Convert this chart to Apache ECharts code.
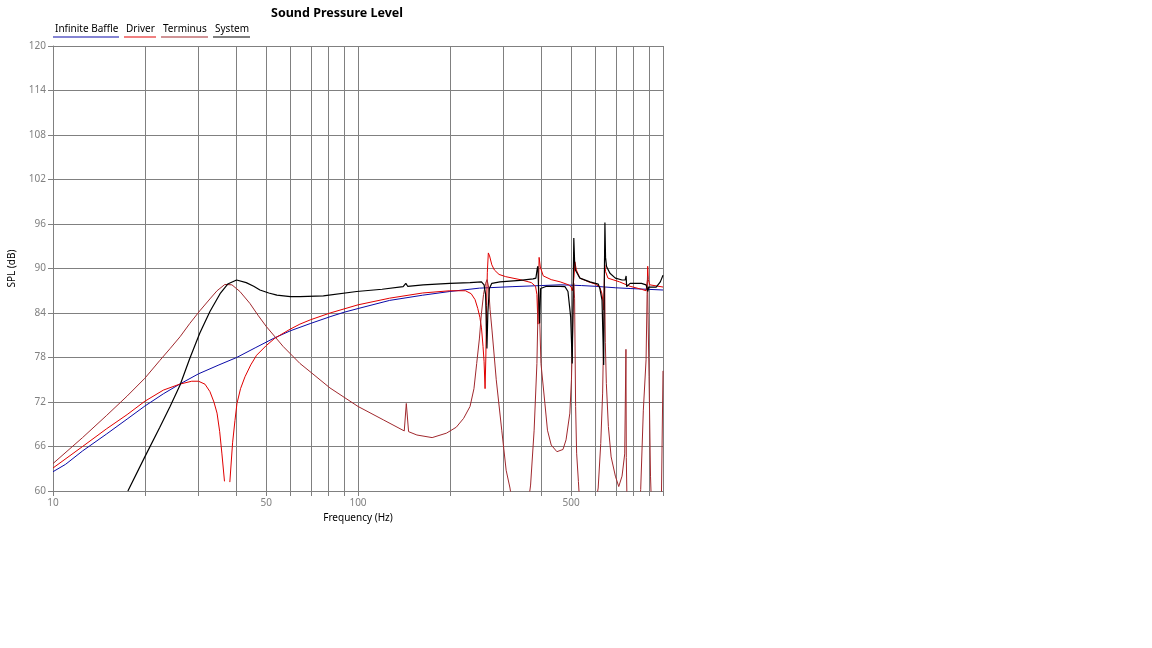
<!DOCTYPE html>
<html>
<head>
<meta charset="utf-8">
<script src="https://cdn.jsdelivr.net/npm/echarts@6/dist/echarts.min.js"></script>
<style>
html,body{margin:0;padding:0;background:#fff;}
#chart{width:1152px;height:648px;}
</style>
</head>
<body>
<div id="chart"></div>
<script>
// ---- data (frequency in Hz, SPL in dB) ----
var seriesNames = ['Infinite Baffle', 'Driver', 'Terminus', 'System'];
var gridFreqs = [10,20,30,40,50,60,70,80,90,100,200,300,400,500,600,700,800,900,1000];
var labelFreqs = [10,50,100,500];
var yTicks = [60,66,72,78,84,90,96,102,108,114,120];

var baffleData = [[10,62.6],[11,63.6],[12.5,65.4],[15,67.7],[17.5,69.7],[20,71.45],[23,73.1],[26,74.4],[30,75.8],[35,77.0],[40,78.0],[46,79.3],[53,80.6],[60,81.6],[70,82.6],[81,83.5],[90,84.1],[100,84.6],[127,85.7],[163,86.4],[200,86.9],[250,87.35],[320,87.55],[400,87.7],[460,87.8],[540,87.7],[600,87.6],[700,87.4],[780,87.3],[1000,87.1]];

var driverData = [[10,63.1],[12.5,66.0],[15,68.4],[17.5,70.3],[20,72.1],[23,73.6],[26,74.4],[28.5,74.8],[30,74.8],[31.5,74.4],[32.7,73.4],[33.7,72.0],[34.5,70.5],[35.2,68.0],[35.8,65.0],[36.5,61.3],[37.2,'-'],[38.0,61.2],[38.8,66.5],[39.5,69.5],[40.1,71.8],[41.2,73.8],[42.6,75.4],[44.5,77.0],[46.5,78.3],[50,79.6],[53.4,80.6],[59.8,81.8],[64.5,82.5],[70,83.1],[81,84.0],[100,85.1],[127,86.0],[163,86.7],[200,87.0],[225,87.0],[235,86.6],[242,85.8],[247,84.6],[251,83.4],[254,82.0],[257,79.5],[259,77.5],[261,73.8],[262.5,78],[264,85],[265.5,89.5],[267.5,92.1],[270,91.7],[274.6,90.5],[280,89.8],[290,89.2],[305,88.9],[340,88.5],[370,88.1],[382,87.6],[386,86.5],[389,82.5],[391,88],[392.5,91.5],[396,90.2],[405,89.0],[430,88.5],[460,88.2],[490,87.8],[500,87.5],[504,87.0],[507,87.5],[511,89],[514,90.9],[520,89.8],[534,88.7],[570,88.2],[600,87.9],[620,87.5],[630,86.7],[636,85.5],[638.5,84.4],[641,87],[644,90.5],[648,89.6],[660,88.7],[670,88.45],[720,88.2],[780,87.6],[850,87.2],[880,87.0],[886,86.8],[889,88.5],[891,90.3],[895,88.5],[905,87.8],[1000,87.5]];

var terminusData = [[10,63.7],[12.5,67.2],[15,70.2],[17.5,72.8],[20,75.2],[22.4,77.6],[24.2,79.2],[26.1,80.8],[28.1,82.6],[30.3,84.3],[32.7,85.9],[34.5,87.0],[36.6,87.85],[38.6,87.8],[41,86.9],[44.2,85.3],[47,83.7],[50,82.2],[56.8,79.5],[64.5,77.2],[69.6,76.1],[80.9,73.9],[100,71.4],[121,69.6],[141.8,68.1],[144,71.8],[146.5,68.0],[156,67.55],[175,67.2],[195,67.8],[210,68.6],[222,69.8],[233,71.4],[240,73.8],[245,77.2],[250,80.5],[254,84.0],[258,86.5],[262,88.0],[265,88.5],[268,87.5],[271,84.5],[275,81.7],[284,75.0],[296,68.2],[306,62.8],[315,60.4],[320,58.5],[362,58.5],[368,60.8],[378,68.2],[386,77.2],[389,84.0],[391,87.5],[393,85],[398,77.2],[410,71.8],[418,68.2],[430,66.2],[449,65.3],[470,65.6],[481,66.9],[495,70.5],[501,75],[506,82],[510,88],[513,86],[517,71.4],[521,65.1],[528,61.3],[532,59],[605,59],[613,60.4],[625,66.4],[634,73.2],[638,79.9],[642,86],[644,87.5],[647,80],[652,74.5],[662,68.7],[676,64.6],[698,62.0],[716,60.6],[722,60.4],[734,62.0],[749,65.0],[756,79.1],[758,64.5],[762,58.5],[838,58.5],[845,60.2],[862,70.9],[880,77.7],[887,86.5],[890,89],[893,84],[900,75.4],[910,62.0],[915,59],[988,59],[1000,76.2]];

var systemData = [[17.6,60],[20,64.6],[22.4,68.6],[24.2,71.4],[26.1,74.3],[28.1,77.9],[30.3,81.3],[32.7,84.2],[35.3,86.6],[37.4,87.9],[40,88.45],[43,88.1],[45.5,87.6],[47.7,87.1],[51,86.7],[54.2,86.4],[60,86.2],[64.5,86.2],[77,86.3],[99,86.9],[120,87.2],[140.6,87.55],[143.5,88.0],[145.5,87.6],[163.6,87.8],[200,88.0],[233,88.1],[254,88.2],[259,87.8],[262,86.5],[264.7,79.2],[266.5,84],[269.6,87.3],[274.6,88.0],[292,88.2],[340,88.4],[375,88.6],[383,88.7],[387,90.0],[389,90.3],[391.5,86],[394,82.6],[397,87.3],[415,87.6],[460,87.6],[477,87.55],[488,86.9],[498,83.5],[504,77.2],[507,86],[510,94.1],[513,91],[516,89.8],[534,88.7],[576,88.2],[613,87.9],[621,87.3],[631,85.75],[639,77.0],[642,88],[645,96.2],[648,91.5],[653,90.25],[670,89.35],[698,88.7],[734,88.45],[752,88.45],[757,89.0],[760,87.55],[780,88.0],[850,88.0],[880,87.8],[887,87.3],[892,86.9],[897,87.5],[950,87.5],[980,88.2],[1000,89.1]];

// ---- styling ----
var colors = ['#0a0aa8', '#e00000', '#a0282d', '#000000'];
var underlineWidths = [66, 32, 47, 37];
var FONT = 'Noto Sans';
var GRAY = '#808080';

var rich = {};
seriesNames.forEach(function (n, i) {
  rich['t' + i] = { width: underlineWidths[i] - 2, align: 'left', fontSize: 10, fontFamily: FONT, color: '#000', lineHeight: 12, padding: [0, 0, 0, 2] };
  rich['u' + i] = { width: underlineWidths[i], height: 1, lineHeight: 4, backgroundColor: colors[i] };
});

var chart = echarts.init(document.getElementById('chart'), null, { renderer: 'canvas' });
var option = {
  backgroundColor: '#fff',
  animation: false,
  title: {
    text: 'Sound Pressure Level',
    left: 332, textAlign: 'center', top: 2,
    textStyle: { fontFamily: FONT, fontWeight: 'bold', fontSize: 12.5, color: '#000' }
  },
  legend: {
    left: 48, top: 24, padding: 0,
    itemWidth: 0, itemHeight: 0, itemGap: 0,
    icon: 'none',
    data: seriesNames,
    formatter: function (name) {
      var i = seriesNames.indexOf(name);
      return '{t' + i + '|' + name + '}\n{u' + i + '| }';
    },
    textStyle: { rich: rich }
  },
  grid: { left: 53, right: 489, top: 46, bottom: 157, containLabel: false, outerBoundsMode: 'none' },
  xAxis: {
    type: 'log', logBase: 10, min: 10, max: 1000,
    name: 'Frequency (Hz)', nameLocation: 'middle', nameGap: 22,
    nameTextStyle: { fontFamily: FONT, fontSize: 10, color: '#000' },
    axisLine: { show: true, lineStyle: { color: GRAY } },
    axisTick: { show: true, length: 5, lineStyle: { color: GRAY }, customValues: gridFreqs },
    axisLabel: { customValues: labelFreqs, color: GRAY, fontFamily: FONT, fontSize: 10, margin: 7 },
    splitLine: { show: true, lineStyle: { color: GRAY, width: 1 } }
  },
  yAxis: {
    type: 'value', min: 60, max: 120, interval: 6,
    name: 'SPL (dB)', nameLocation: 'middle', nameGap: 36, nameRotate: 90,
    nameTextStyle: { fontFamily: FONT, fontSize: 10, color: '#000' },
    axisLine: { show: true, lineStyle: { color: GRAY } },
    axisTick: { show: true, length: 5, lineStyle: { color: GRAY } },
    axisLabel: { color: GRAY, fontFamily: FONT, fontSize: 10, margin: 7 },
    splitLine: { show: true, lineStyle: { color: GRAY, width: 1 } }
  },
  series: [
    { name: seriesNames[0], data: baffleData, color: colors[0], lineWidth: 1 },
    { name: seriesNames[1], data: driverData, color: colors[1], lineWidth: 1 },
    { name: seriesNames[2], data: terminusData, color: colors[2], lineWidth: 1 },
    { name: seriesNames[3], data: systemData, color: colors[3], lineWidth: 1.2 }
  ].map(function (s) {
    return {
      name: s.name, type: 'line', data: s.data, showSymbol: false, symbol: 'none',
      connectNulls: false, clip: true, smooth: false,
      itemStyle: { color: s.color },
      lineStyle: { color: s.color, width: s.lineWidth }
    };
  })
};
chart.setOption(option);
</script>
</body>
</html>
